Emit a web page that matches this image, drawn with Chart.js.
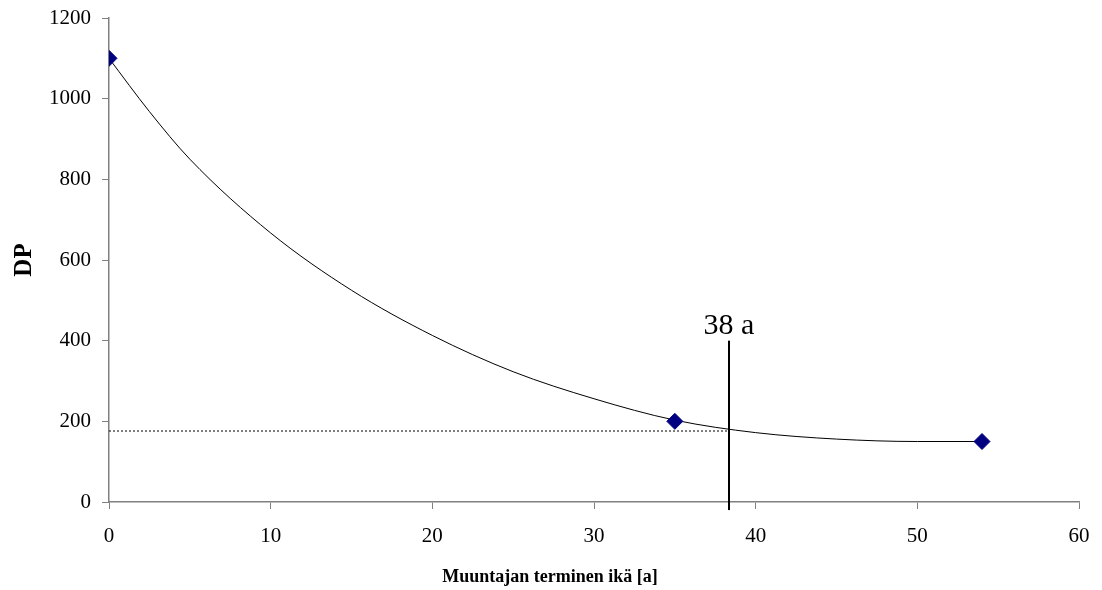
<!DOCTYPE html>
<html>
<head>
<meta charset="utf-8">
<script src="https://cdn.jsdelivr.net/npm/chart.js@4/dist/chart.umd.min.js"></script>
<style>
    body { margin: 0; background: #fff; }
    canvas { display: block; }
</style>
</head>
<body>
<canvas id="chart" width="1102" height="590"></canvas>
<script>
//
// Data
//

const ages = [ 0, 35, 54 ]
const dp_values = [ 1100, 200, 150 ]

// trend curve
const curve_ages = [ 0, 2.5, 5, 10, 15, 20, 25, 30, 35, 40, 45, 50, 54 ]
const curve_dp = [ 1100, 968, 850, 667, 525, 413, 323, 256, 203, 172, 156, 150, 150 ]

// marked age and DP level
const mark_age = 38.35
const mark_dp = 176
const mark_top = 400
const mark_label = '38 a'

const x_title = 'Muuntajan terminen ikä [a]'
const y_title = 'DP'

const SERIF = "'Liberation Serif', 'Times New Roman', serif"
const AXIS_GREY = '#808080'

const pts = (xs, ys) => xs.map((x, i) => ({ x, y: ys[i] }))

//
// Plugin for text: mark label and axis titles
//

const textPlugin = {
    id: 'texts',
    afterDraw (chart) {
        const { ctx, scales } = chart
        const x = scales.x
        const y = scales.y
        ctx.save()
        ctx.fillStyle = '#000'
        ctx.textAlign = 'center'
        ctx.textBaseline = 'alphabetic'
        ctx.font = `30px ${SERIF}`
        ctx.fillText(mark_label, x.getPixelForValue(mark_age), y.getPixelForValue(mark_top) - 7)

        ctx.font = `bold 18px ${SERIF}`
        ctx.fillText(x_title, 550, 582)

        ctx.font = `bold 25px ${SERIF}`
        ctx.translate(31, 260)
        ctx.rotate(-Math.PI / 2)
        ctx.fillText(y_title, 0, 0)
        ctx.restore()
    },
}

const ctx = document.getElementById('chart').getContext('2d')
const chart = new Chart(ctx, {
    type: 'scatter',
    data: {
        datasets: [
            {
                label: 'DP',
                data: pts(ages, dp_values),
                pointStyle: 'rectRot',
                pointRadius: 8,
                pointHoverRadius: 8,
                backgroundColor: '#000080',
                borderColor: '#000080',
                borderWidth: 1,
                showLine: false,
            },
            {
                label: 'curve',
                data: pts(curve_ages, curve_dp),
                showLine: true,
                borderColor: '#000',
                borderWidth: 1,
                pointRadius: 0,
                cubicInterpolationMode: 'monotone',
            },
            {
                label: 'level',
                data: pts([ 0, mark_age ], [ mark_dp, mark_dp ]),
                showLine: true,
                borderColor: '#000',
                borderWidth: 1,
                borderDash: [ 2, 2 ],
                pointRadius: 0,
            },
            {
                label: 'age',
                data: pts([ mark_age, mark_age ], [ -20, mark_top ]),
                showLine: true,
                borderColor: '#000',
                borderWidth: 2,
                pointRadius: 0,
                clip: false,
            },
        ],
    },
    options: {
        responsive: false,
        animation: false,
        layout: { padding: { top: 18, right: 23, left: 0, bottom: 0 } },
        plugins: {
            legend: { display: false },
            tooltip: { enabled: false },
        },
        scales: {
            x: {
                type: 'linear',
                min: 0,
                max: 60,
                afterFit: (s) => {
                    s.height = 88
                    s.paddingLeft = 0
                    s.paddingRight = 0
                },
                border: { color: AXIS_GREY, width: 1.5 },
                grid: { drawOnChartArea: false, drawTicks: true, tickLength: 7, color: AXIS_GREY },
                ticks: {
                    stepSize: 10,
                    color: '#000',
                    padding: 15,
                    font: { family: SERIF, size: 21 },
                    callback: (v) => String(v),
                },
            },
            y: {
                type: 'linear',
                min: 0,
                max: 1200,
                afterFit: (s) => {
                    s.width = 109
                    s.paddingTop = 0
                    s.paddingBottom = 0
                },
                border: { color: AXIS_GREY, width: 1.5 },
                grid: { drawOnChartArea: false, drawTicks: true, tickLength: 7, color: AXIS_GREY },
                ticks: {
                    stepSize: 200,
                    color: '#000',
                    padding: 11,
                    font: { family: SERIF, size: 21 },
                    callback: (v) => String(v),
                },
            },
        },
    },
    plugins: [ textPlugin ],
})
</script>
</body>
</html>
